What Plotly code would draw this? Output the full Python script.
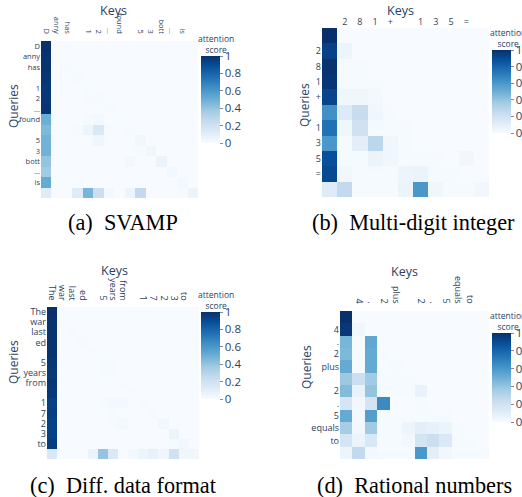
import plotly.graph_objects as go

W, H = 522, 497

# ---------------- data ----------------
tokens_a = ["D", "anny", "has", " ", "1", "2", "...", "found", " ", "5", "3", "bott", "...", "is", " "]
attn_a = [
    [1.00, 0, 0, 0, 0, 0, 0, 0, 0, 0, 0, 0, 0, 0, 0],
    [0.99, 0.01, 0, 0, 0, 0, 0, 0, 0, 0, 0, 0, 0, 0, 0],
    [0.99, 0, 0.01, 0, 0, 0, 0, 0, 0, 0, 0, 0, 0, 0, 0],
    [0.98, 0, 0, 0.01, 0, 0, 0, 0, 0, 0, 0, 0, 0, 0, 0],
    [0.97, 0, 0, 0, 0.01, 0, 0, 0, 0, 0, 0, 0, 0, 0, 0],
    [0.97, 0, 0, 0, 0.01, 0.01, 0, 0, 0, 0, 0, 0, 0, 0, 0],
    [0.98, 0, 0, 0, 0, 0, 0.01, 0, 0, 0, 0, 0, 0, 0, 0],
    [0.50, 0.01, 0, 0, 0.01, 0.02, 0, 0.01, 0, 0, 0, 0, 0, 0, 0],
    [0.45, 0, 0, 0.01, 0.05, 0.15, 0.01, 0, 0.01, 0, 0, 0, 0, 0, 0],
    [0.48, 0, 0, 0, 0, 0.04, 0, 0, 0, 0.03, 0, 0, 0, 0, 0],
    [0.48, 0, 0, 0, 0, 0, 0, 0, 0, 0.01, 0.04, 0, 0, 0, 0],
    [0.40, 0, 0, 0, 0, 0, 0, 0, 0.02, 0, 0, 0.06, 0, 0, 0],
    [0.37, 0, 0, 0, 0, 0, 0, 0, 0, 0, 0, 0, 0.02, 0, 0],
    [0.52, 0, 0, 0, 0, 0, 0, 0, 0, 0, 0, 0, 0, 0.02, 0],
    [0.12, 0, 0, 0.12, 0.47, 0.22, 0.02, 0, 0.05, 0.26, 0, 0, 0, 0.01, 0.06],
]

tokens_b = [" ", "2", "8", "1", "+", " ", "1", "3", "5", "=", " "]
attn_b = [
    [1.00, 0, 0, 0, 0, 0, 0, 0, 0, 0, 0],
    [0.93, 0.05, 0, 0, 0, 0, 0, 0, 0, 0, 0],
    [0.99, 0.01, 0.01, 0, 0, 0, 0, 0, 0, 0, 0],
    [0.98, 0.01, 0.01, 0.01, 0, 0, 0, 0, 0, 0, 0],
    [0.92, 0.04, 0.04, 0.02, 0, 0, 0, 0, 0, 0, 0],
    [0.63, 0.13, 0.24, 0.04, 0.01, 0, 0, 0, 0, 0, 0],
    [0.75, 0.04, 0.20, 0.01, 0.01, 0.01, 0, 0, 0, 0, 0],
    [0.60, 0.01, 0.10, 0.28, 0.04, 0.01, 0, 0, 0, 0, 0],
    [0.88, 0.01, 0.01, 0.06, 0.04, 0.01, 0.01, 0.01, 0, 0.03, 0],
    [0.90, 0.03, 0.01, 0.01, 0.01, 0.05, 0.06, 0.01, 0.01, 0, 0],
    [0.12, 0.26, 0.01, 0.01, 0.01, 0.06, 0.60, 0.04, 0.01, 0.01, 0.03],
]

tokens_c = ["The", "war", "last", "ed", " ", "5", "years", "from", " ", "1", "7", "2", "3", "to", " "]
attn_c = [
    [1.00, 0, 0, 0, 0, 0, 0, 0, 0, 0, 0, 0, 0, 0, 0],
    [0.99, 0.01, 0, 0, 0, 0, 0, 0, 0, 0, 0, 0, 0, 0, 0],
    [0.99, 0, 0.01, 0, 0, 0, 0, 0, 0, 0, 0, 0, 0, 0, 0],
    [0.99, 0, 0, 0.01, 0, 0, 0, 0, 0, 0, 0, 0, 0, 0, 0],
    [0.99, 0, 0, 0, 0.01, 0, 0, 0, 0, 0, 0, 0, 0, 0, 0],
    [0.98, 0, 0, 0, 0, 0.01, 0.01, 0, 0, 0, 0, 0, 0, 0, 0],
    [0.97, 0, 0, 0, 0, 0.01, 0.01, 0, 0, 0, 0, 0, 0, 0, 0],
    [0.98, 0, 0, 0, 0, 0, 0, 0.01, 0, 0, 0, 0, 0, 0, 0],
    [0.97, 0, 0, 0, 0, 0, 0, 0, 0.01, 0, 0, 0, 0, 0, 0],
    [0.94, 0, 0, 0, 0, 0.01, 0.02, 0.02, 0, 0.01, 0, 0, 0, 0, 0],
    [0.95, 0, 0, 0, 0, 0, 0.01, 0, 0, 0, 0.01, 0, 0, 0, 0],
    [0.93, 0, 0, 0, 0, 0, 0.01, 0.02, 0, 0, 0, 0.03, 0, 0, 0],
    [0.93, 0, 0, 0, 0, 0, 0, 0, 0, 0, 0, 0, 0.05, 0, 0],
    [0.95, 0, 0, 0, 0, 0, 0, 0, 0, 0, 0, 0, 0.01, 0.03, 0],
    [0.15, 0, 0, 0, 0.06, 0.40, 0.14, 0, 0.02, 0.05, 0.08, 0.04, 0.20, 0.04, 0.04],
]

tokens_d = [" ", "4", ".", "2", "plus", " ", "2", ".", "5", "equals", "to", " "]
attn_d = [
    [1.00, 0, 0, 0, 0, 0, 0, 0, 0, 0, 0, 0],
    [0.97, 0.04, 0, 0, 0, 0, 0, 0, 0, 0, 0, 0],
    [0.47, 0.01, 0.53, 0, 0, 0, 0, 0, 0, 0, 0, 0],
    [0.45, 0.01, 0.52, 0.01, 0, 0, 0, 0, 0, 0, 0, 0],
    [0.52, 0.01, 0.52, 0, 0.01, 0, 0, 0, 0, 0, 0, 0],
    [0.38, 0.22, 0.37, 0.01, 0.01, 0.01, 0, 0, 0, 0, 0, 0],
    [0.44, 0.07, 0.40, 0.01, 0.01, 0.01, 0.07, 0, 0, 0, 0, 0],
    [0.17, 0.03, 0.18, 0.65, 0, 0, 0.01, 0, 0, 0, 0, 0],
    [0.52, 0.02, 0.57, 0.01, 0.01, 0.01, 0.01, 0.01, 0.01, 0, 0, 0],
    [0.35, 0.03, 0.37, 0.01, 0.01, 0.05, 0.10, 0.08, 0.06, 0.01, 0, 0],
    [0.17, 0.06, 0.15, 0.01, 0.01, 0.03, 0.18, 0.22, 0.14, 0.01, 0.01, 0],
    [0.05, 0.26, 0.02, 0.01, 0.01, 0.01, 0.60, 0.10, 0.03, 0.01, 0.01, 0.01],
]

captions = ["(a)\u2002SVAMP", "(b)\u2002Multi-digit integer",
            "(c)\u2002Diff. data format", "(d)\u2002Rational numbers"]
cbar_ticks = [0, 0.2, 0.4, 0.6, 0.8, 1]
cbar_title = "attention<br>score"

# ---------------- layout helpers (pixel boxes) ----------------
panels = [
    dict(tok=tokens_a, z=attn_a, box=(41, 198, 41, 198), angle=90, tfs=7.5, so=5,
         cb=(201, 56, 143), cbt=(216, 44), keys=(113, 10), q=(13, 106), cap=(123, 223)),
    dict(tok=tokens_b, z=attn_b, box=(322, 489, 28, 197), angle=0, tfs=9, so=0,
         cb=(492, 50, 133), cbt=(508, 38), keys=(400, 10), q=(305, 105), cap=(413, 223)),
    dict(tok=tokens_c, z=attn_c, box=(47, 199, 307, 459), angle=90, tfs=9, so=4,
         cb=(201, 312, 399), cbt=(216, 300), keys=(114, 270), q=(13, 362), cap=(123, 485)),
    dict(tok=tokens_d, z=attn_d, box=(340, 489, 311, 459), angle=90, tfs=9, so=5,
         cb=(492, 333, 422), cbt=(508, 321), keys=(404, 271), q=(306, 367), cap=(414, 485)),
]

def px(x):
    return x / W

def py(y):
    return 1 - y / H

fig = go.Figure()
annotations = []
FONT_COLOR = "#2a3f5f"

def note(text, x, y, size, color=FONT_COLOR, family=None, angle=0):
    f = dict(size=size, color=color)
    if family:
        f["family"] = family
    return dict(text=text, x=px(x), y=py(y), xref="paper", yref="paper",
                xanchor="center", yanchor="middle", textangle=angle,
                showarrow=False, font=f)

for i, p in enumerate(panels, start=1):
    n = len(p["tok"])
    idx = list(range(n))
    sfx = "" if i == 1 else str(i)
    x0, x1, y0, y1 = p["box"]
    cbx, cbt, cbb = p["cb"]
    fig.add_trace(go.Heatmap(
        z=p["z"], x=idx, y=idx, xaxis="x" + sfx, yaxis="y" + sfx,
        colorscale="Blues", zmin=0, zmax=1,
        colorbar=dict(
            x=px(cbx), xanchor="left", y=py(cbt), yanchor="top",
            len=cbb - cbt, lenmode="pixels", thickness=19, thicknessmode="pixels",
            xpad=0, ypad=0, outlinewidth=0,
            tickvals=cbar_ticks, ticks="outside", ticklen=3, tickcolor="#888",
            tickfont=dict(size=11.5, color=FONT_COLOR),
        ),
    ))
    fig.layout["xaxis" + sfx] = dict(
        domain=[px(x0), px(x1)], anchor="y" + sfx, side="top", automargin=False,
        tickvals=idx, ticktext=p["tok"], tickangle=p["angle"], ticklabelstandoff=p["so"],
        tickfont=dict(size=p["tfs"], color=FONT_COLOR),
        range=[-0.5, n - 0.5], showgrid=False, zeroline=False, ticks="", showline=False,
    )
    fig.layout["yaxis" + sfx] = dict(
        domain=[py(y1), py(y0)], anchor="x" + sfx, automargin=False,
        tickvals=idx, ticktext=p["tok"],
        tickfont=dict(size=p["tfs"], color=FONT_COLOR),
        range=[n - 0.5, -0.5], showgrid=False, zeroline=False, ticks="", showline=False,
    )
    annotations.append(note("Keys", *p["keys"], 12.5))
    annotations.append(note("Queries", *p["q"], 12, angle=-90))
    annotations.append(note(cbar_title, *p["cbt"], 8.5))
    annotations.append(note(captions[i - 1], *p["cap"], 22.3, color="black",
                            family="Liberation Serif"))

fig.update_layout(
    width=W, height=H, margin=dict(l=0, r=0, t=0, b=0, autoexpand=False),
    paper_bgcolor="white", plot_bgcolor="white",
    font=dict(family="Open Sans, verdana, arial, sans-serif", color=FONT_COLOR),
    annotations=annotations, showlegend=False,
)

fig.write_html("out.html", config={"displayModeBar": False},
               post_script="document.body.style.margin='0';")
